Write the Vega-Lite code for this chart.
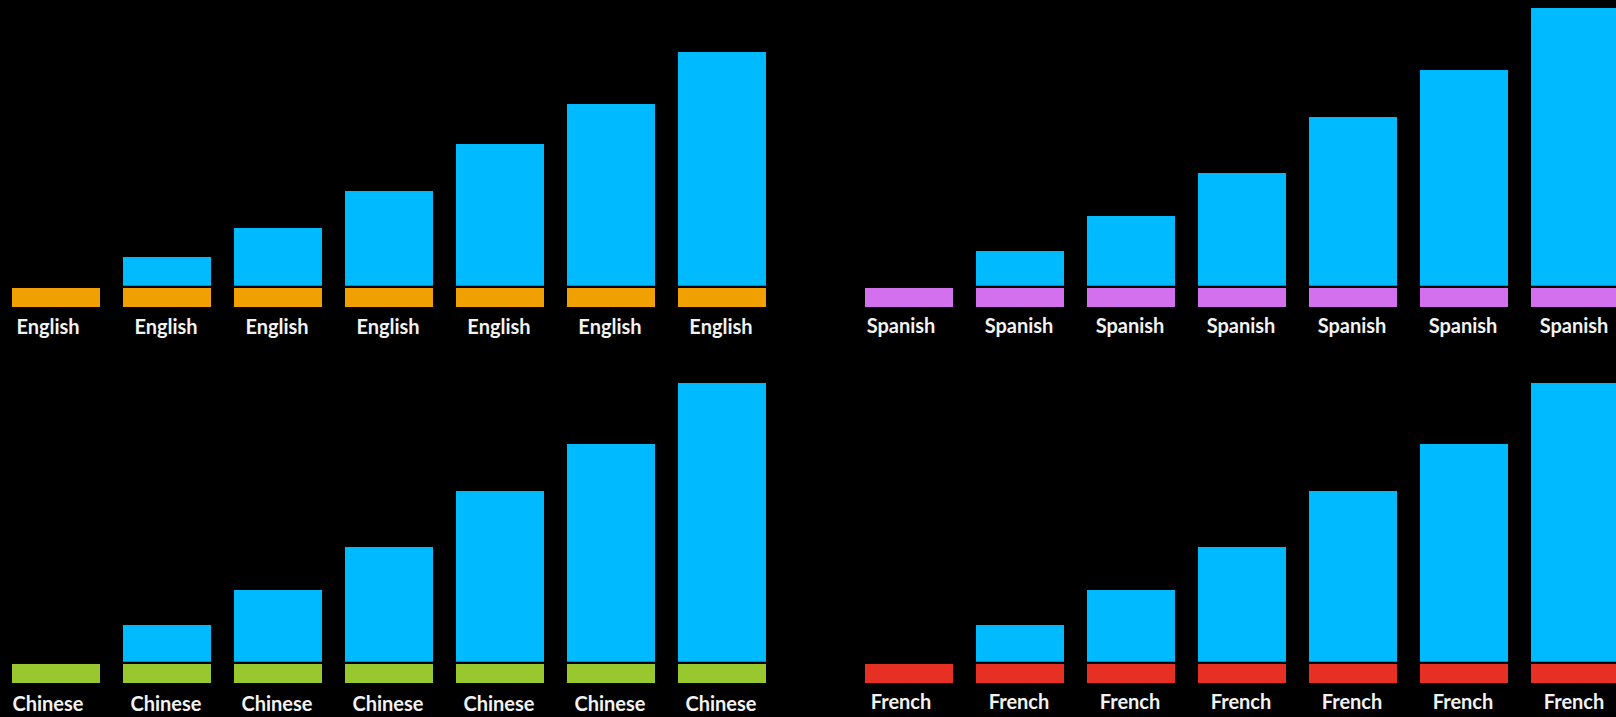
{
  "$schema": "https://vega.github.io/schema/vega-lite/v6.json",
  "background": "#000000",
  "padding": 0,
  "spacing": 36,
  "config": {"view": {"stroke": null}, "text": {"font": "Lato", "fontSize": 20, "fontWeight": "bold", "color": "#F2F2F2", "baseline": "alphabetic", "align": "center"}},
  "datasets": {
    "bars": [
      {"lang": "English", "idx": 1, "base": 19, "top": 19},
      {"lang": "English", "idx": 2, "base": 19, "top": 50},
      {"lang": "English", "idx": 3, "base": 19, "top": 79},
      {"lang": "English", "idx": 4, "base": 19, "top": 116},
      {"lang": "English", "idx": 5, "base": 19, "top": 163},
      {"lang": "English", "idx": 6, "base": 19, "top": 203},
      {"lang": "English", "idx": 7, "base": 19, "top": 255},
      {"lang": "Spanish", "idx": 1, "base": 19, "top": 19},
      {"lang": "Spanish", "idx": 2, "base": 19, "top": 56},
      {"lang": "Spanish", "idx": 3, "base": 19, "top": 91},
      {"lang": "Spanish", "idx": 4, "base": 19, "top": 134},
      {"lang": "Spanish", "idx": 5, "base": 19, "top": 190},
      {"lang": "Spanish", "idx": 6, "base": 19, "top": 237},
      {"lang": "Spanish", "idx": 7, "base": 19, "top": 299},
      {"lang": "Chinese", "idx": 1, "base": 19, "top": 19},
      {"lang": "Chinese", "idx": 2, "base": 19, "top": 58},
      {"lang": "Chinese", "idx": 3, "base": 19, "top": 93},
      {"lang": "Chinese", "idx": 4, "base": 19, "top": 136},
      {"lang": "Chinese", "idx": 5, "base": 19, "top": 192},
      {"lang": "Chinese", "idx": 6, "base": 19, "top": 239},
      {"lang": "Chinese", "idx": 7, "base": 19, "top": 300},
      {"lang": "French", "idx": 1, "base": 19, "top": 19},
      {"lang": "French", "idx": 2, "base": 19, "top": 58},
      {"lang": "French", "idx": 3, "base": 19, "top": 93},
      {"lang": "French", "idx": 4, "base": 19, "top": 136},
      {"lang": "French", "idx": 5, "base": 19, "top": 192},
      {"lang": "French", "idx": 6, "base": 19, "top": 239},
      {"lang": "French", "idx": 7, "base": 19, "top": 300}
    ]
  },
  "vconcat": [
    {
      "spacing": 75,
      "hconcat": [
        {
          "width": 778, "height": 340,
          "data": {"name": "bars"},
          "transform": [{"filter": "datum.lang == 'English'"}],
          "encoding": {
            "x": {"field": "idx", "type": "ordinal", "axis": null, "scale": {"range": [12, 766], "paddingInner": 0.2072, "paddingOuter": 0}}
          },
          "layer": [
            {"mark": {"type": "bar", "color": "#F0A000", "clip": true},
             "encoding": {"y": {"field": "base", "type": "quantitative", "axis": null, "scale": {"domain": [-33, 307], "nice": false, "zero": false}}, "y2": {"datum": 0}}},
            {"transform": [{"filter": "datum.top > datum.base"}],
             "mark": {"type": "bar", "color": "#00BAFF", "clip": true, "y2Offset": -2.3},
             "encoding": {"y": {"field": "top", "type": "quantitative"}, "y2": {"field": "base"}}},
            {"transform": [{"filter": "datum.idx == 1"}],
             "mark": {"type": "text", "dx": -8},
             "encoding": {"text": {"field": "lang"}, "y": {"datum": -27}}},
            {"transform": [{"filter": "datum.idx > 1"}],
             "mark": {"type": "text", "dx": -1},
             "encoding": {"text": {"field": "lang"}, "y": {"datum": -27}}}
          ]
        },
        {
          "width": 763, "height": 340,
          "data": {"name": "bars"},
          "transform": [{"filter": "datum.lang == 'Spanish'"}],
          "encoding": {
            "x": {"field": "idx", "type": "ordinal", "axis": null, "scale": {"range": [12, 766], "paddingInner": 0.2072, "paddingOuter": 0}}
          },
          "layer": [
            {"mark": {"type": "bar", "color": "#D270EE", "clip": true},
             "encoding": {"y": {"field": "base", "type": "quantitative", "axis": null, "scale": {"domain": [-33, 307], "nice": false, "zero": false}}, "y2": {"datum": 0}}},
            {"transform": [{"filter": "datum.top > datum.base"}],
             "mark": {"type": "bar", "color": "#00BAFF", "clip": true, "y2Offset": -2.3},
             "encoding": {"y": {"field": "top", "type": "quantitative"}, "y2": {"field": "base"}}},
            {"transform": [{"filter": "datum.idx == 1"}],
             "mark": {"type": "text", "dx": -8},
             "encoding": {"text": {"field": "lang"}, "y": {"datum": -25.5}}},
            {"transform": [{"filter": "datum.idx > 1"}],
             "mark": {"type": "text", "dx": -1},
             "encoding": {"text": {"field": "lang"}, "y": {"datum": -25.5}}}
          ]
        }
      ]
    },
    {
      "spacing": 75,
      "hconcat": [
        {
          "width": 778, "height": 341,
          "data": {"name": "bars"},
          "transform": [{"filter": "datum.lang == 'Chinese'"}],
          "encoding": {
            "x": {"field": "idx", "type": "ordinal", "axis": null, "scale": {"range": [12, 766], "paddingInner": 0.2072, "paddingOuter": 0}}
          },
          "layer": [
            {"mark": {"type": "bar", "color": "#99C72E", "clip": true},
             "encoding": {"y": {"field": "base", "type": "quantitative", "axis": null, "scale": {"domain": [-34, 307], "nice": false, "zero": false}}, "y2": {"datum": 0}}},
            {"transform": [{"filter": "datum.top > datum.base"}],
             "mark": {"type": "bar", "color": "#00BAFF", "clip": true, "y2Offset": -2.3},
             "encoding": {"y": {"field": "top", "type": "quantitative"}, "y2": {"field": "base"}}},
            {"transform": [{"filter": "datum.idx == 1"}],
             "mark": {"type": "text", "dx": -8},
             "encoding": {"text": {"field": "lang"}, "y": {"datum": -27.5}}},
            {"transform": [{"filter": "datum.idx > 1"}],
             "mark": {"type": "text", "dx": -1},
             "encoding": {"text": {"field": "lang"}, "y": {"datum": -27.5}}}
          ]
        },
        {
          "width": 763, "height": 341,
          "data": {"name": "bars"},
          "transform": [{"filter": "datum.lang == 'French'"}],
          "encoding": {
            "x": {"field": "idx", "type": "ordinal", "axis": null, "scale": {"range": [12, 766], "paddingInner": 0.2072, "paddingOuter": 0}}
          },
          "layer": [
            {"mark": {"type": "bar", "color": "#E53023", "clip": true},
             "encoding": {"y": {"field": "base", "type": "quantitative", "axis": null, "scale": {"domain": [-34, 307], "nice": false, "zero": false}}, "y2": {"datum": 0}}},
            {"transform": [{"filter": "datum.top > datum.base"}],
             "mark": {"type": "bar", "color": "#00BAFF", "clip": true, "y2Offset": -2.3},
             "encoding": {"y": {"field": "top", "type": "quantitative"}, "y2": {"field": "base"}}},
            {"transform": [{"filter": "datum.idx == 1"}],
             "mark": {"type": "text", "dx": -8},
             "encoding": {"text": {"field": "lang"}, "y": {"datum": -25.5}}},
            {"transform": [{"filter": "datum.idx > 1"}],
             "mark": {"type": "text", "dx": -1},
             "encoding": {"text": {"field": "lang"}, "y": {"datum": -25.5}}}
          ]
        }
      ]
    }
  ]
}
